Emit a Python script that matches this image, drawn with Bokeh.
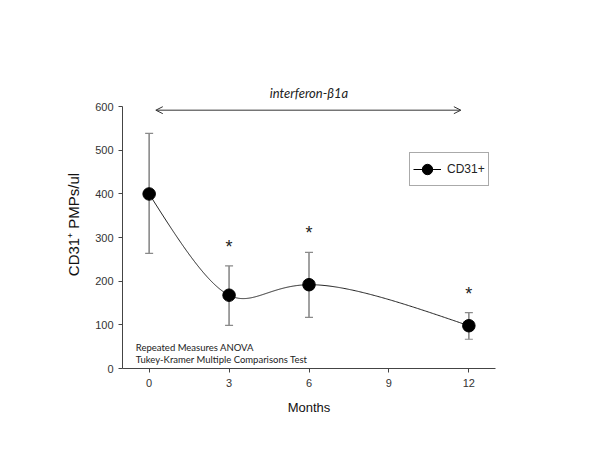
import numpy as np
from bokeh.plotting import figure
from bokeh.models import (ColumnDataSource, Whisker, TeeHead, Arrow, OpenHead,
                          FixedTicker, Legend, LegendItem)
from bokeh.core.properties import value
from bokeh.embed import file_html
from bokeh.resources import INLINE

# ---- data ----
months = [0, 3, 6, 12]
cd31 = [400, 168, 192, 98]
err_upper = [539, 235, 266, 128]
err_lower = [264, 99, 117, 67]
significant = ["", "*", "*", "*"]
x_ticks = [0, 3, 6, 9, 12]
y_ticks = [0, 100, 200, 300, 400, 500, 600]
treatment_label = "interferon-β1a"
treatment_span = (0.25, 11.7)
treatment_level = 592
stats_lines = ["Repeated Measures ANOVA", "Tukey-Kramer Multiple Comparisons Test"]


def natural_spline_1d(t, y, ts):
    t = np.asarray(t, float)
    y = np.asarray(y, float)
    k = len(t)
    h = np.diff(t)
    A = np.zeros((k, k))
    b = np.zeros(k)
    A[0, 0] = A[-1, -1] = 1
    for i in range(1, k - 1):
        A[i, i - 1] = h[i - 1]
        A[i, i] = 2 * (h[i - 1] + h[i])
        A[i, i + 1] = h[i]
        b[i] = 6 * ((y[i + 1] - y[i]) / h[i] - (y[i] - y[i - 1]) / h[i - 1])
    M = np.linalg.solve(A, b)
    idx = np.clip(np.searchsorted(t, ts) - 1, 0, k - 2)
    t0 = t[idx]
    t1 = t[idx + 1]
    hh = t1 - t0
    a = t1 - ts
    c = ts - t0
    return (M[idx] * a ** 3 / (6 * hh) + M[idx + 1] * c ** 3 / (6 * hh)
            + (y[idx] / hh - M[idx] * hh / 6) * a
            + (y[idx + 1] / hh - M[idx + 1] * hh / 6) * c)


def parametric_spline(x, y, n=400):
    t = np.arange(len(x), dtype=float)
    ts = np.linspace(t[0], t[-1], n)
    return natural_spline_1d(t, x, ts), natural_spline_1d(t, y, ts)


p = figure(width=584, height=434, output_backend="svg", toolbar_location=None,
           x_range=(-1, 13), y_range=(0, 660),
           min_border_left=122, min_border_right=89, min_border_top=80,
           min_border_bottom=66)
p.outline_line_color = None
p.xgrid.visible = False
p.ygrid.visible = False

src = ColumnDataSource(dict(x=months, y=cd31, upper=err_upper, lower=err_lower,
                            star=significant))

# error bars
wh = Whisker(base="x", upper="upper", lower="lower", source=src,
             line_color="#8a8a8a", line_width=1.6,
             upper_head=TeeHead(size=8, line_color="#8a8a8a", line_width=1.2),
             lower_head=TeeHead(size=8, line_color="#8a8a8a", line_width=1.2))
p.add_layout(wh)

# smooth curve
sx, sy = parametric_spline(months, cd31)
p.line(sx, sy, line_color="#222222", line_width=1)

pts = p.scatter("x", "y", source=src, size=12.5, marker="circle",
                fill_color="black", line_color="black", line_width=1)

# asterisks
p.text("x", "upper", text="star", source=src, y_offset=-9,
       text_align="center", text_baseline="bottom",
       text_font=value("Liberation Sans"), text_font_size="18px",
       text_color="#222222")

# treatment arrow + label
p.add_layout(Arrow(x_start=treatment_span[0], x_end=treatment_span[1],
                   y_start=treatment_level, y_end=treatment_level,
                   line_color="#333333", line_width=1,
                   start=OpenHead(size=7, line_color="#333333", line_width=1),
                   end=OpenHead(size=7, line_color="#333333", line_width=1)))
p.text(x=[6], y=[632], text=[treatment_label], text_align="center",
       text_baseline="middle", text_font=value("Lato"),
       text_font_style="italic", text_font_size="13px", text_color="#222222")

# stats text
p.text(x=[-0.5, -0.5], y=[49, 20], text=stats_lines, text_align="left",
       text_baseline="alphabetic", text_font=value("Lato"),
       text_font_size="9.5px", text_color="#222222")

# legend
legend_line = p.line([np.nan], [np.nan], line_color="black", line_width=1)
legend = Legend(items=[LegendItem(label="CD31+", renderers=[legend_line, pts])],
                location=(287, 182), orientation="vertical",
                glyph_width=28, glyph_height=26, label_standoff=6,
                padding=3, margin=0, spacing=0,
                border_line_color="#555555", border_line_width=1,
                label_text_font="Liberation Sans", label_text_font_size="12px",
                label_text_color="#222222", background_fill_alpha=1)
p.add_layout(legend)

# axes
for ax in (p.xaxis[0], p.yaxis[0]):
    ax.axis_line_color = "#444444"
    ax.major_tick_line_color = "#444444"
    ax.major_tick_out = 4
    ax.major_tick_in = 0
    ax.minor_tick_line_color = None
    ax.major_label_text_font = "Liberation Sans"
    ax.major_label_text_font_size = "11px"
    ax.major_label_text_color = "#333333"
    ax.axis_label_text_font = "Liberation Sans"
    ax.axis_label_text_font_style = "normal"
    ax.axis_label_text_color = "#111111"

p.xaxis.ticker = FixedTicker(ticks=x_ticks)
p.yaxis.ticker = FixedTicker(ticks=y_ticks)
p.xaxis.bounds = (-1, 13)
p.yaxis.bounds = (0, 600)
p.xaxis.major_label_standoff = 6
p.yaxis.major_label_standoff = 5
p.xaxis.axis_label = "Months"
p.xaxis.axis_label_text_font_size = "13px"
p.xaxis.axis_label_standoff = 10
p.yaxis.axis_label = "CD31⁺ PMPs/ul"
p.yaxis.axis_label_text_font_size = "15px"
p.yaxis.axis_label_standoff = 10

open("out.html", "w").write(file_html(p, INLINE))
